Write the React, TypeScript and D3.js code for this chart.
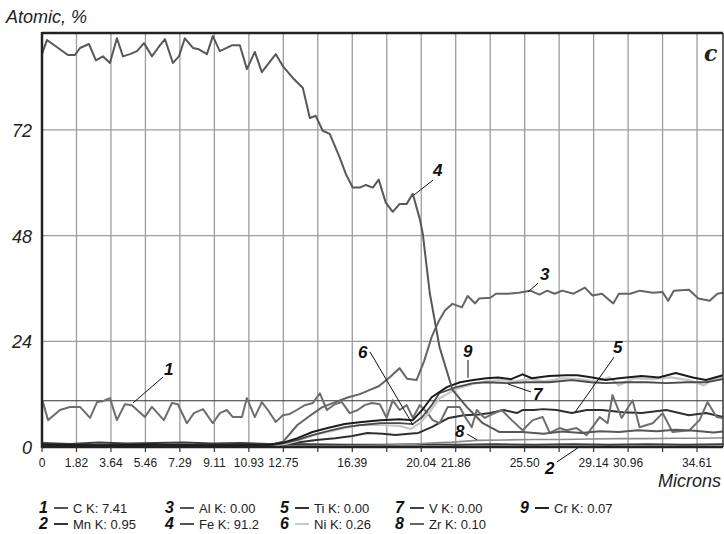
import React from "react";
import * as d3 from "d3";

type Pt = [number, number];

// x in microns, y in atomic %
const feData: Pt[] = [[0,89.2],[0.26,92.4],[1.37,89.0],[1.74,89.0],[2.01,90.6],[2.48,91.5],[2.85,87.8],[3.22,88.7],[3.59,87.2],[3.96,92.8],[4.28,88.7],[4.65,89.2],[5.02,89.9],[5.39,91.7],[5.81,88.7],[6.13,90.6],[6.50,92.6],[6.92,87.2],[7.24,88.7],[7.55,92.8],[7.98,90.6],[8.29,90.3],[8.72,89.2],[9.03,93.3],[9.40,89.9],[10.04,91.2],[10.46,91.2],[10.83,85.8],[11.25,89.7],[11.62,85.1],[12.36,89.2],[12.73,86.5],[13.26,83.8],[13.79,81.5],[14.16,74.7],[14.47,75.2],[14.84,71.8],[15.21,71.1],[15.74,65.7],[16.06,62.0],[16.43,58.9],[16.80,58.9],[17.12,59.5],[17.49,58.9],[17.80,60.7],[18.17,55.5],[18.54,53.4],[18.91,55.2],[19.28,55.2],[19.60,57.5],[19.97,51.8],[20.13,48.4],[20.50,34.9],[21.02,22.6],[21.71,12.9],[22.45,9.1],[23.30,5.4],[24.19,3.4],[25.41,3.4],[26.5,3.0],[27.5,3.5],[28.5,3.2],[29.5,3.6],[30.5,3.4],[31.5,3.8],[32.5,3.6],[33.5,3.9],[34.5,3.7],[35.5,3.3],[36,3.5]];

const alData: Pt[] = [[0,0.3],[3,0.2],[6,0.3],[9,0.2],[12,0.4],[12.75,1.2],[13.5,5.0],[14.2,7.2],[14.8,9.0],[15.5,10.2],[16.2,11.3],[16.8,12.0],[17.3,12.9],[17.8,13.8],[18.4,15.9],[18.9,17.9],[19.3,15.5],[19.8,15.2],[20.2,19.5],[20.6,25.0],[21.0,28.8],[21.3,31.0],[21.7,32.5],[22.2,31.7],[22.5,34.3],[22.9,32.6],[23.1,33.7],[23.7,33.9],[24.0,34.8],[24.6,34.8],[25.2,35.0],[25.8,35.5],[26.3,34.6],[26.7,35.5],[27.1,34.8],[27.5,35.5],[28.1,34.8],[28.7,36.2],[29.1,34.4],[29.6,34.8],[30.2,32.6],[30.5,34.8],[31.1,34.8],[31.6,35.5],[32.3,35.0],[32.8,35.2],[33.1,33.2],[33.4,35.5],[34.2,35.7],[34.7,33.7],[35.3,33.2],[35.7,34.8],[36,35.0]];

const cData: Pt[] = [[0.04,10.3],[0.32,6.1],[0.95,8.4],[1.48,9.1],[2.01,9.1],[2.54,6.6],[2.91,10.2],[3.22,10.4],[3.59,11.1],[3.96,6.1],[4.38,9.7],[4.75,9.5],[5.44,6.8],[5.81,9.1],[6.44,6.1],[6.87,10.0],[7.18,9.7],[7.66,5.4],[8.03,7.7],[8.51,8.6],[9.03,5.4],[9.40,7.7],[9.77,8.4],[10.09,6.8],[10.57,6.8],[10.83,11.1],[11.25,6.8],[11.62,10.2],[11.94,8.4],[12.36,5.7],[12.73,7.2],[13.1,7.5],[13.47,8.4],[13.89,9.5],[14.32,10.0],[14.69,12.2],[15.06,8.4],[15.48,9.7],[15.85,10.2],[16.27,7.7],[16.69,8.4],[17.06,9.5],[17.43,10.0],[17.86,9.7],[18.22,6.6],[18.54,10.6],[18.91,8.4],[19.28,9.5],[19.6,6.6],[19.97,9.5],[20.34,7.9],[20.65,6.1],[21.02,5.4],[21.45,9.1],[22.08,9.1],[22.4,6.6],[22.72,4.5],[22.98,8.4],[23.4,6.6],[23.67,7.2],[24.3,8.4],[24.83,6.1],[25.41,3.8],[25.94,6.1],[26.47,6.8],[26.84,3.2],[27.36,4.3],[27.73,3.8],[28.26,4.3],[28.79,2.7],[29.48,6.8],[29.9,5.4],[30.16,11.8],[30.64,6.6],[31.22,10.6],[31.59,4.5],[32.28,5.4],[32.81,7.7],[33.33,3.4],[34.23,3.8],[34.76,6.1],[35.18,10.2],[35.66,6.8],[35.97,6.6]];

const tiData: Pt[] = [[0,0.3],[3,0.4],[6,0.3],[9,0.4],[12,0.3],[12.75,0.5],[13.5,1.0],[14.5,1.6],[15.5,2.0],[16.4,2.5],[17.2,3.2],[18.0,3.0],[18.7,2.7],[19.4,3.0],[19.9,3.2],[20.6,4.5],[21.5,6.6],[22.3,7.2],[23.1,7.4],[23.7,7.7],[24.4,8.4],[25.1,7.7],[25.4,8.4],[26.0,8.4],[26.5,8.6],[27.2,8.4],[28.0,7.7],[28.8,8.4],[29.6,8.4],[30.7,7.9],[31.7,7.7],[33.0,8.4],[34.2,7.2],[35.1,7.7],[36,6.8]];

const crData: Pt[] = [[0,0.5],[3,0.4],[6,0.5],[9,0.4],[12,0.5],[12.75,1.0],[13.5,2.0],[14.3,3.4],[15.1,4.3],[16.0,5.2],[16.9,5.7],[17.9,6.1],[18.9,6.3],[19.6,6.1],[20.1,8.4],[20.6,11.3],[21.4,13.6],[22.1,14.7],[22.8,15.2],[23.5,15.6],[24.1,15.8],[24.8,15.4],[25.4,16.5],[25.9,15.6],[26.8,16.1],[27.7,16.3],[28.3,16.3],[29.1,15.8],[29.8,15.2],[30.5,15.6],[31.7,16.1],[32.6,15.8],[33.5,16.8],[34.4,15.8],[35.1,15.2],[36,16.3]];

const vData: Pt[] = [[0,0.3],[3,0.3],[6,0.2],[9,0.3],[12,0.3],[12.75,0.8],[13.5,1.6],[14.3,2.7],[15.1,3.6],[16.0,4.5],[16.9,5.0],[17.9,5.4],[18.9,5.4],[19.6,5.2],[20.1,6.8],[20.6,9.5],[21.0,12.2],[21.9,13.6],[22.8,14.5],[23.5,14.7],[24.6,14.5],[25.6,14.7],[26.8,14.7],[28.0,15.2],[29.0,14.7],[29.8,14.5],[30.9,14.7],[32.0,14.7],[33.0,14.5],[34.1,14.7],[35.1,14.7],[36,15.4]];

const niData: Pt[] = [[0,0.2],[3,0.2],[6,0.3],[9,0.2],[12,0.2],[12.75,0.6],[13.5,1.4],[14.3,2.6],[15.1,3.4],[16.0,4.3],[16.9,5.0],[17.9,5.0],[18.9,4.8],[19.5,4.1],[20.0,5.5],[20.5,8.0],[21.0,11.0],[21.9,13.2],[22.8,14.3],[23.5,14.9],[24.3,15.2],[25.0,14.9],[25.8,15.4],[26.6,14.9],[27.5,15.6],[28.4,15.4],[29.3,14.9],[30.0,15.8],[30.5,14.0],[31.3,15.6],[32.3,15.4],[33.2,15.8],[34.2,15.2],[35.0,14.0],[35.5,15.4],[36,15.8]];

const zrData: Pt[] = [[0,0.2],[4,0.3],[8,0.2],[12,0.3],[16,0.3],[18,0.4],[19.5,0.6],[20.5,0.9],[21.7,1.1],[23,1.5],[24.5,1.6],[26,1.7],[27.5,1.7],[29,1.8],[30.5,1.9],[32,1.9],[33.5,2.0],[35,2.0],[36,2.1]];

const mnData: Pt[] = [[0,0.9],[1.5,0.7],[3,1.0],[4.5,0.8],[6,0.9],[7.5,1.0],[9,0.8],[10.5,0.9],[12,0.7],[14,0.6],[16,0.5],[18,0.5],[20,0.6],[22,0.5],[24,0.6],[26,0.5],[28,0.6],[30,0.5],[32,0.6],[34,0.5],[36,0.6]];

const xTickLabels = ["0","1.82","3.64","5.46","7.29","9.11","10.93","12.75","","16.39","","20.04","21.86","","25.50","","29.14","30.96","","34.61"];
const xTickStep = 1.8225;
const yTicks = [0, 24, 48, 72];
const refLine = 10.5;

const legendNums = ["1","2","3","4","5","6","7","8","9"];
const legendLabels = ["C K: 7.41","Mn K: 0.95","Al K: 0.00","Fe K: 91.2","Ti K: 0.00","Ni K: 0.26","V K: 0.00","Zr K: 0.10","Cr K: 0.07"];

// annotation: label, text pos (x,y), leader from (x,y) to (x,y) — in data units
const annoLabels = ["1","2","3","4","5","6","7","8","9"];
const annoText: Pt[] = [[6.45,16.35],[26.59,-6.1],[26.33,37.9],[20.67,61.5],[30.18,21.3],[16.70,20.2],[25.96,10.7],[21.83,2.3],[22.26,20.4]];
const annoFrom: Pt[] = [[6.40,15.9],[27.22,-3.4],[26.22,37.2],[20.67,60.6],[30.24,20.4],[17.34,21.6],[25.85,12.5],[22.47,2.95],[22.52,19.75]];
const annoTo: Pt[] = [[4.81,10.0],[28.33,-0.2],[25.69,35.2],[19.66,57.2],[28.18,7.9],[19.61,5.0],[24.63,14.3],[23.0,1.6],[22.52,15.7]];

const FONT = "'Liberation Sans', Arial, sans-serif";

export default function App() {
  const W = 724, H = 534;
  const x = d3.scaleLinear().domain([0, 36]).range([42, 723]);
  const y = d3.scaleLinear().domain([0, 94]).range([447, 33]);
  const line = d3.line<Pt>().x(d => x(d[0])).y(d => y(d[1]));

  const series = [
    { d: mnData, c: "#3a3a3a", w: 2 },
    { d: zrData, c: "#8c8c8c", w: 1.6 },
    { d: tiData, c: "#2f2f2f", w: 2 },
    { d: cData, c: "#6e6e6e", w: 2 },
    { d: alData, c: "#646464", w: 2 },
    { d: niData, c: "#c6c6c6", w: 2.2 },
    { d: vData, c: "#4a4a4a", w: 1.8 },
    { d: crData, c: "#1c1c1c", w: 2 },
    { d: feData, c: "#585858", w: 2 },
  ];
  const legendColors = ["#555","#333","#555","#555","#333","#c8c8c8","#444","#666","#222"];
  const legendCols = [39, 165, 280, 395, 520];
  const legendRows = [513, 529];
  const ticks = xTickLabels.map((_, i) => i * xTickStep);

  return (
    <svg width={W} height={H} style={{ position: "absolute", left: 0, top: 0, background: "#fff" }}>
      <rect x={0} y={0} width={W} height={H} fill="#fff" />
      {ticks.slice(1).map((t, i) => (
        <line key={"vg" + i} x1={x(t)} x2={x(t)} y1={y(94)} y2={y(0)} stroke="#9c9c9c" strokeWidth={1.3} />
      ))}
      {yTicks.slice(1).map((t, i) => (
        <line key={"hg" + i} x1={x(0)} x2={x(36)} y1={y(t)} y2={y(t)} stroke="#9c9c9c" strokeWidth={1.3} />
      ))}
      <line x1={x(0)} x2={x(36)} y1={y(refLine)} y2={y(refLine)} stroke="#333" strokeWidth={1.2} />
      {series.map((s, i) => (
        <path key={"s" + i} d={line(s.d) || ""} fill="none" stroke={s.c} strokeWidth={s.w} strokeLinejoin="round" />
      ))}
      {/* frame */}
      <line x1={x(0)} x2={x(36)} y1={y(94)} y2={y(94)} stroke="#222" strokeWidth={2.5} />
      <line x1={x(36)} x2={x(36)} y1={y(94)} y2={y(0)} stroke="#333" strokeWidth={1.5} />
      <line x1={x(0)} x2={x(0)} y1={y(94) - 1} y2={y(0) + 1} stroke="#222" strokeWidth={2.5} />
      <line x1={x(0)} x2={x(36)} y1={y(0)} y2={y(0)} stroke="#222" strokeWidth={2.5} />
      {ticks.map((t, i) => (
        <line key={"tk" + i} x1={x(t)} x2={x(t)} y1={y(0)} y2={y(0) + 5} stroke="#333" strokeWidth={1.2} />
      ))}
      {ticks.map((t, i) => (
        <text key={"tl" + i} x={x(t)} y={467} textAnchor="middle" fontFamily={FONT} fontSize={12} fill="#222">{xTickLabels[i]}</text>
      ))}
      {yTicks.map((t, i) => (
        <text key={"yl" + i} x={32} y={y(t) + 7} textAnchor="end" fontFamily={FONT} fontSize={18} fontStyle="italic" fill="#222">{t}</text>
      ))}
      <text x={6} y={23} fontFamily={FONT} fontSize={18} fontStyle="italic" fill="#222">Atomic, %</text>
      <text x={721} y={487} textAnchor="end" fontFamily={FONT} fontSize={18} fontStyle="italic" fill="#222">Microns</text>
      <text x={704} y={61} fontFamily="'DejaVu Serif', 'Liberation Serif', serif" fontSize={22} fontStyle="italic" fontWeight="bold" fill="#222">c</text>
      {annoLabels.map((l, i) => (
        <g key={"an" + i}>
          <line x1={x(annoFrom[i][0])} y1={y(annoFrom[i][1])} x2={x(annoTo[i][0])} y2={y(annoTo[i][1])} stroke="#111" strokeWidth={1} />
          <text x={x(annoText[i][0])} y={y(annoText[i][1])} fontFamily={FONT} fontSize={17} fontStyle="italic" fontWeight="bold" fill="#111">{l}</text>
        </g>
      ))}
      {legendNums.map((n, i) => {
        const cx = legendCols[Math.floor(i / 2)];
        const cy = legendRows[i % 2];
        return (
          <g key={"lg" + i}>
            <text x={cx} y={cy} fontFamily={FONT} fontSize={16} fontStyle="italic" fontWeight="bold" fill="#111">{n}</text>
            <line x1={cx + 15} x2={cx + 29} y1={cy - 5} y2={cy - 5} stroke={legendColors[i]} strokeWidth={2} />
            <text x={cx + 34} y={cy} fontFamily={FONT} fontSize={13} fill="#222">{legendLabels[i]}</text>
          </g>
        );
      })}
    </svg>
  );
}
